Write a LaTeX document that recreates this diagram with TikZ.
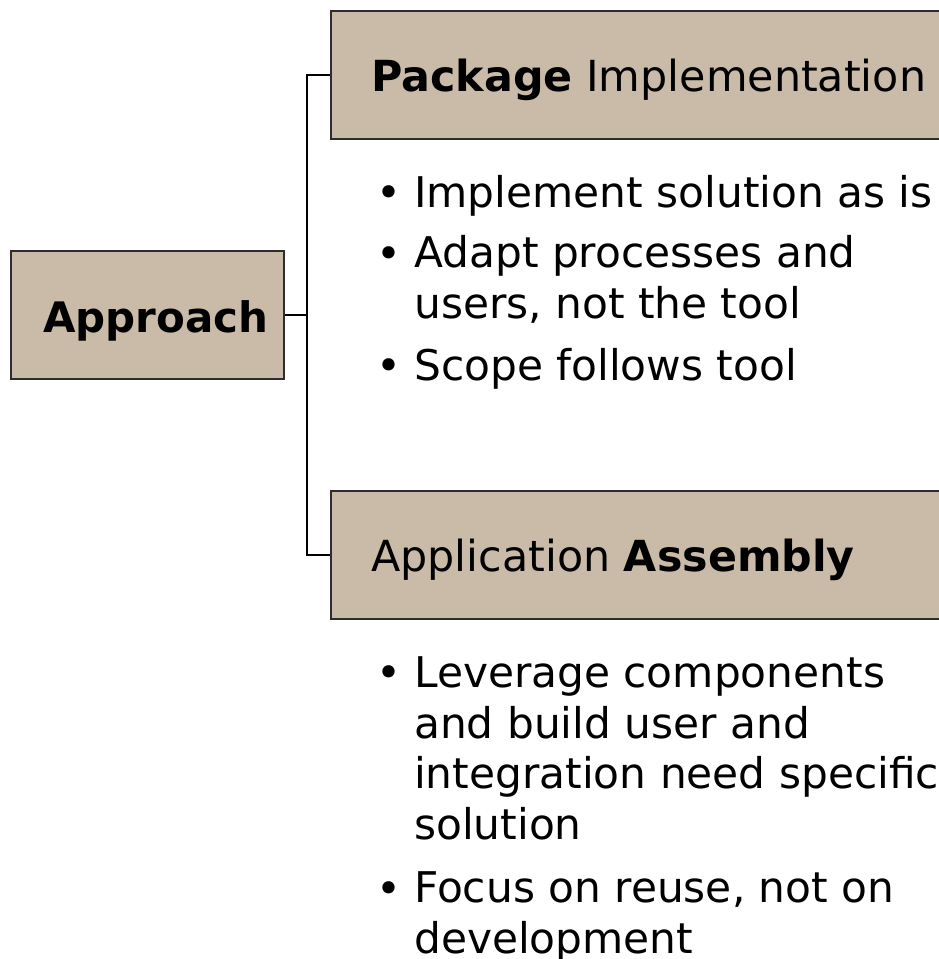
\documentclass[tikz,border=0pt]{standalone}
\usepackage{fontspec}
\setmainfont{DejaVu Sans}
\usetikzlibrary{positioning}
\definecolor{boxtan}{RGB}{202,187,168}
\definecolor{edge}{RGB}{45,45,45}

\begin{document}
\begin{tikzpicture}[x=1pt, y=-1pt,
  box/.style={draw=edge, line width=1.8pt, fill=boxtan, anchor=north west, minimum height=128pt, inner sep=0pt},
  head/.style={anchor=base west, inner sep=0pt, font=\fontsize{42.8}{50}\selectfont},
  item/.style={anchor=base west, inner sep=0pt, align=left, font=\fontsize{42.3}{50.5}\selectfont},
  dot/.style={anchor=base west, inner sep=0pt, font=\fontsize{42.3}{50}\selectfont},
  link/.style={line width=2pt}]
  \clip (0,0) rectangle (939,959);
  % boxes
  \node[box, minimum width=273pt] (appr) at (10,250) {};
  \node[box, minimum width=640pt] (pkg)  at (330,10)  {};
  \node[box, minimum width=640pt] (asm)  at (330,490) {};
  % headings
  \node[head, font=\fontsize{42}{50}\selectfont\bfseries] (apprtxt) at (43,332) {Approach};
  \node[head] (pkgtxt) at (371,91)  {\textbf{Package} Implementation};
  \node[head] (asmtxt) at (371,571) {Application \textbf{Assembly}};
  % package bullets (multi-line items anchored on their last line)
  \node[dot]  (pkgd1) at (376,207) {•};
  \node[item] (pkgi1) at (414,207) {Implement solution as is};
  \node[dot]  (pkgd2) at (376,268) {•};
  \node[item] (pkgi2) at (414,318) {Adapt processes and\\users, not the tool};
  \node[dot]  (pkgd3) at (376,380) {•};
  \node[item] (pkgi3) at (414,380) {Scope follows tool};
  % assembly bullets
  \node[dot]  (asmd1) at (376,687) {•};
  \node[item] (asmi1) at (414,839) {Leverage components\\and build user and\\integration need specific\\solution};
  \node[dot]  (asmd2) at (376,903) {•};
  \node[item] (asmi2) at (414,953) {Focus on reuse, not on\\development};
  % connectors
  \draw[link] (pkg.west) -- ++(-23,0) coordinate (trunk) |- (asm.west);
  \draw[link] (appr.east) -- (appr.east -| trunk);
\end{tikzpicture}
\end{document}
